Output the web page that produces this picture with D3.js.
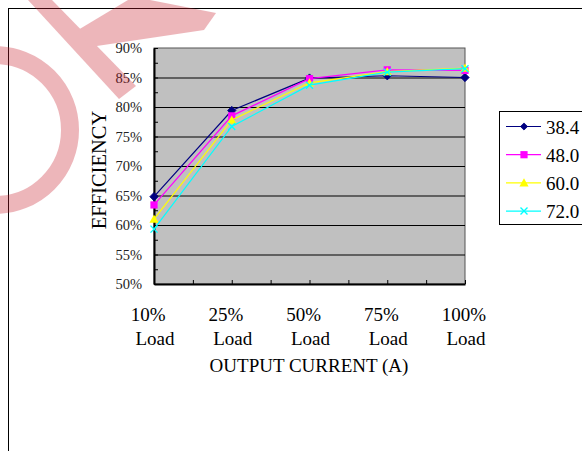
<!DOCTYPE html>
<html><head><meta charset="utf-8">
<script src="https://cdn.jsdelivr.net/npm/d3@7"></script>
<style>
body{margin:0;background:#fff}
svg{display:block}
text{font-family:"Liberation Serif","Times New Roman",serif}
</style>
</head><body><svg id="c" width="582" height="451"></svg>
<script>
// ---- data ----
const categories = [["10%\u00a0\u00a0", "Load"], ["25%\u00a0\u00a0", "Load"], ["50%\u00a0\u00a0", "Load"], ["75%\u00a0\u00a0", "Load"], ["100%", "Load"]];
const seriesNames = ["38.4", "48.0", "60.0", "72.0"];
const s384 = [64.8, 79.4, 84.9, 85.3, 85.0];
const s480 = [63.4, 78.5, 84.8, 86.3, 86.2];
const s600 = [61.0, 77.8, 84.1, 86.0, 86.6];
const s720 = [59.3, 76.7, 83.7, 85.9, 86.5];
const yTicks = [50, 55, 60, 65, 70, 75, 80, 85, 90];
const yMinorTicks = [50, 52.5, 55, 57.5, 60, 62.5, 65, 67.5, 70, 72.5, 75, 77.5, 80, 82.5, 85, 87.5, 90];
const xTitle = "OUTPUT CURRENT (A)";
const yTitle = "EFFICIENCY";

const seriesValues = [s384, s480, s600, s720];
const colors = ["#000080", "#ff00ff", "#ffff00", "#00ffff"];
const markers = ["diamond", "square", "triangle", "x"];
const serif = '"Liberation Serif","Times New Roman",serif';

const svg = d3.select("#c");
const L = 154, R = 465, T = 48, B = 284;

// outer frame
svg.append("rect").attr("x", 8.5).attr("y", 8.5).attr("width", 620).attr("height", 500)
  .attr("fill", "none").attr("stroke", "#000").attr("stroke-width", 1);

const x = d3.scaleLinear().domain([0, categories.length - 1]).range([L, R]);
const y = d3.scaleLinear().domain([50, 90]).range([B, T]);

// plot area
svg.append("rect").attr("x", L).attr("y", T).attr("width", R - L).attr("height", B - T)
  .attr("fill", "#c0c0c0").attr("stroke", "#555").attr("stroke-width", 1);

// gridlines
const grid = svg.append("g").attr("transform", `translate(${L},0)`)
  .call(d3.axisLeft(y).tickValues(yTicks.filter(d => d > 50 && d < 90)).tickSize(-(R - L)).tickFormat(""));
grid.select(".domain").remove();
grid.selectAll(".tick line").attr("stroke", "#000").attr("stroke-width", 1);

// y minor ticks (inward)
const ym = svg.append("g").attr("transform", `translate(${L},0)`)
  .call(d3.axisLeft(y).tickValues(yMinorTicks).tickSize(-4).tickSizeOuter(0).tickFormat(""));
ym.select(".domain").attr("stroke", "#000").attr("stroke-width", 2);

// y labels
const yl = svg.append("g").attr("transform", `translate(${L},0)`)
  .call(d3.axisLeft(y).tickValues(yTicks).tickSize(0).tickPadding(12).tickFormat(d => d + "%"));
yl.attr("font-family", serif).attr("font-size", 14.5);
yl.select(".domain").remove();
yl.selectAll("text").style("font-family", serif).style("font-size", "14.5px").attr("fill", "#222");

// x axis ticks (inward, between categories)
const xTickVals = d3.range(0, categories.length - 0.99, 0.5);
const xa = svg.append("g").attr("transform", `translate(0,${B})`)
  .call(d3.axisBottom(x).tickValues(xTickVals).tickSize(-4).tickSizeOuter(0).tickFormat(""));
xa.select(".domain").attr("stroke", "#000").attr("stroke-width", 2);

// x labels
const xl = svg.append("g");
categories.forEach((lines, i) => {
  const t = xl.append("text").attr("x", x(i)).attr("y", 321).attr("text-anchor", "middle")
    .attr("font-size", 19).attr("fill", "#000").style("white-space", "pre");
  t.append("tspan").attr("x", x(i)).attr("dx", -1).attr("y", 321).text(lines[0]);
  t.append("tspan").attr("x", x(i)).attr("dx", 1).attr("y", 345).text(lines[1]);
});

// titles
svg.append("text").attr("x", 309).attr("y", 372).attr("text-anchor", "middle")
  .attr("font-size", 19).text(xTitle);
svg.append("text").attr("transform", "translate(106,170) rotate(-90)").attr("text-anchor", "middle")
  .attr("font-size", 20.5).text(yTitle);

// marker drawing
function drawMarker(g, type, cx, cy, color, scale) {
  const s = scale || 1;
  if (type === "diamond") {
    const r = 4.2 * s;
    g.append("path").attr("d", `M${cx},${cy - r}L${cx + r},${cy}L${cx},${cy + r}L${cx - r},${cy}Z`)
      .attr("fill", color).attr("stroke", color).attr("stroke-width", 0.8);
  } else if (type === "square") {
    const r = 3.6 * s;
    g.append("rect").attr("x", cx - r).attr("y", cy - r).attr("width", 2 * r).attr("height", 2 * r)
      .attr("fill", color);
  } else if (type === "triangle") {
    const r = 4.6 * s;
    g.append("path").attr("d", `M${cx},${cy - r}L${cx + r},${cy + r * 0.8}L${cx - r},${cy + r * 0.8}Z`)
      .attr("fill", color);
  } else {
    const r = 3.5 * s;
    g.append("path").attr("d", `M${cx - r},${cy - r}L${cx + r},${cy + r}M${cx - r},${cy + r}L${cx + r},${cy - r}`)
      .attr("stroke", color).attr("stroke-width", 1.4).attr("fill", "none");
  }
}

// series
const line = d3.line().x((d, i) => x(i)).y(d => y(d));
seriesValues.forEach((vals, k) => {
  const g = svg.append("g");
  g.append("path").datum(vals).attr("d", line).attr("fill", "none")
    .attr("stroke", colors[k]).attr("stroke-width", 1.2);
  vals.forEach((v, i) => drawMarker(g, markers[k], x(i), y(v), colors[k]));
});

// legend
const lg = svg.append("g");
lg.append("rect").attr("x", 499.5).attr("y", 111.5).attr("width", 120).attr("height", 113)
  .attr("fill", "#fff").attr("stroke", "#000").attr("stroke-width", 1);
seriesNames.forEach((name, k) => {
  const ly = 126.5 + k * 28.2;
  lg.append("line").attr("x1", 506).attr("x2", 541).attr("y1", ly).attr("y2", ly)
    .attr("stroke", colors[k]).attr("stroke-width", 1.2);
  drawMarker(lg, markers[k], 524, ly, colors[k], k === 0 ? 0.85 : 1);
  lg.append("text").attr("x", 546).attr("y", ly + 7).attr("font-size", 19).text(name);
});

// watermark (decorative)
const wm = svg.append("g").attr("fill", "rgb(200,30,45)").attr("opacity", 0.32);
wm.append("circle").attr("cx", -5).attr("cy", 130).attr("r", 75)
  .attr("fill", "none").attr("stroke", "rgb(200,30,45)").attr("stroke-width", 18);
wm.append("path").attr("d", "M28,0L52,0L136,86L119,99Z");
wm.append("path").attr("d", "M78,30L90,47L204,30L216,13L150,0L128,0Z");
</script>
</body></html>
